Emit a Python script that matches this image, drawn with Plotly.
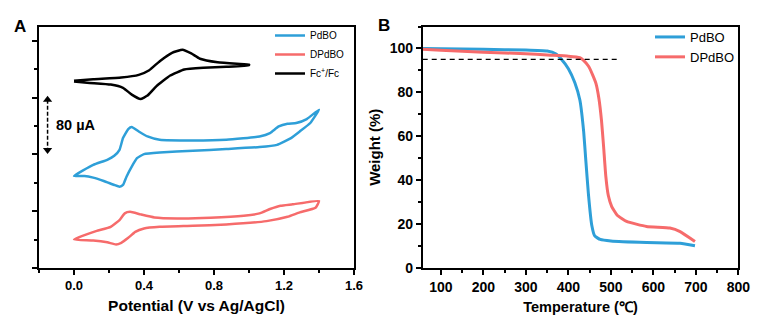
import plotly.graph_objects as go

W, H = 771, 331

# ---------------- Panel A: cyclic voltammetry (current offset, uA) ----------------
fc_up_v = [0.00, 0.11, 0.27, 0.37, 0.43, 0.49, 0.56, 0.62, 0.67, 0.72, 0.82, 0.93, 1.00]
fc_up_i = [263.5, 265.7, 268.1, 271.9, 278.4, 291.2, 303.0, 307.2, 302.0, 294.6, 289.7, 287.5, 286.5]
fc_dn_v = [1.00, 0.87, 0.74, 0.63, 0.55, 0.47, 0.42, 0.38, 0.33, 0.28, 0.21, 0.09, 0.00]
fc_dn_i = [285.5, 283.2, 281.8, 279.4, 271.0, 255.8, 242.7, 238.0, 244.1, 253.6, 258.2, 260.6, 262.5]

pd_up_v = [0.00, 0.11, 0.19, 0.23, 0.26, 0.28, 0.31, 0.33, 0.37, 0.42, 0.49, 0.68, 0.87, 1.06, 1.12, 1.17, 1.22, 1.27, 1.33, 1.40]
pd_up_i = [129.6, 145.2, 152.3, 157.9, 166.4, 182.9, 195.6, 198.4, 192.2, 185.2, 180.5, 179.5, 180.5, 185.2, 190.0, 199.3, 203.1, 204.1, 209.7, 222.9]
pd_dn_v = [1.35, 1.29, 1.24, 1.16, 1.06, 0.87, 0.68, 0.49, 0.40, 0.36, 0.33, 0.30, 0.28, 0.26, 0.23, 0.17, 0.11, 0.06, 0.00]
pd_dn_i = [204.1, 192.2, 182.9, 173.4, 170.2, 167.5, 165.1, 162.7, 160.4, 154.6, 142.8, 128.6, 116.9, 114.5, 116.9, 122.5, 127.2, 129.6, 129.6]

dp_up_v = [0.00, 0.06, 0.13, 0.21, 0.26, 0.29, 0.32, 0.38, 0.46, 0.59, 0.78, 0.97, 1.06, 1.12, 1.18, 1.25, 1.40]
dp_up_i = [40.1, 46.2, 52.3, 57.9, 67.4, 76.9, 79.1, 75.5, 71.2, 69.8, 70.7, 73.5, 76.9, 83.0, 87.6, 89.6, 94.3]
dp_dn_v = [1.38, 1.29, 1.22, 1.10, 0.87, 0.68, 0.49, 0.40, 0.35, 0.31, 0.27, 0.24, 0.19, 0.11, 0.00]
dp_dn_i = [84.8, 78.3, 72.1, 66.0, 61.3, 59.4, 57.9, 55.7, 50.9, 42.5, 35.5, 33.1, 36.2, 38.8, 40.1]

scale_bar = [237, 166]  # 80 uA double arrow (ends)

# ---------------- Panel B: TGA ----------------
tga_pd_t = [57, 100, 200, 300, 350, 370, 384, 400, 415, 427, 436, 441, 447, 455, 462, 475, 500, 584, 663, 698]
tga_pd_w = [100.0, 99.9, 99.6, 99.3, 98.8, 97.6, 95.0, 90.8, 84.5, 76.5, 62.0, 49.0, 34.0, 19.5, 14.6, 13.0, 12.3, 11.6, 11.3, 10.1]
tga_dp_t = [57, 100, 200, 300, 350, 400, 427, 435, 447, 457, 465, 472, 478, 483, 488, 494, 502, 515, 537, 584, 639, 663, 698]
tga_dp_w = [99.6, 99.2, 98.3, 97.6, 97.0, 96.5, 95.8, 94.7, 92.0, 88.0, 84.0, 77.0, 67.0, 55.0, 42.0, 33.0, 28.0, 24.0, 21.2, 18.9, 18.2, 16.6, 12.1]
ref_line_t = [57, 515]
ref_line_w = 95

BLUE = "#2E9FD8"
RED = "#F66B6B"
FONT = "Arial, Liberation Sans, sans-serif"

fig = go.Figure()

def loop(v1, i1, v2, i2):
    return v1 + v2, i1 + i2

cv_line = dict(width=2.5, shape="spline", smoothing=0.4)
x, y = loop(pd_up_v, pd_up_i, pd_dn_v, pd_dn_i)
fig.add_trace(go.Scatter(x=x, y=y, mode="lines", name="PdBO", line=dict(color=BLUE, **cv_line), legend="legend"))
x, y = loop(dp_up_v, dp_up_i, dp_dn_v, dp_dn_i)
fig.add_trace(go.Scatter(x=x, y=y, mode="lines", name="DPdBO", line=dict(color=RED, **cv_line), legend="legend"))
x, y = loop(fc_up_v, fc_up_i, fc_dn_v, fc_dn_i)
fig.add_trace(go.Scatter(x=x, y=y, mode="lines", name="Fc<sup>+</sup>/Fc", line=dict(color="black", **cv_line), legend="legend"))

# 80 uA scale bar: dashed line with arrow heads
bar_x = -0.151
fig.add_trace(go.Scatter(x=[bar_x, bar_x], y=scale_bar, mode="lines+markers", showlegend=False, hoverinfo="skip",
                         line=dict(color="black", width=1.5, dash="4px,2px"),
                         marker=dict(symbol=["triangle-up", "triangle-down"], size=8, color="black"),
                         cliponaxis=False))

fig.add_trace(go.Scatter(x=tga_pd_t, y=tga_pd_w, mode="lines", name="PdBO", line=dict(color=BLUE, width=3, shape="spline", smoothing=0.4), xaxis="x2", yaxis="y2", legend="legend2"))
fig.add_trace(go.Scatter(x=tga_dp_t, y=tga_dp_w, mode="lines", name="DPdBO", line=dict(color=RED, width=3, shape="spline", smoothing=0.4), xaxis="x2", yaxis="y2", legend="legend2"))
fig.add_trace(go.Scatter(x=ref_line_t, y=[ref_line_w, ref_line_w], mode="lines", showlegend=False, line=dict(color="black", width=1.2, dash="5px,4px"), xaxis="x2", yaxis="y2"))

def px(xp):
    return xp / W

def py(yp):
    return 1 - yp / H

ydom = [py(268), py(26.5)]
axis_common = dict(showline=True, linecolor="black", linewidth=1.5, mirror=True, showgrid=False, zeroline=False,
                   ticks="outside", ticklen=5, tickwidth=1.5, tickcolor="black", automargin=False)

fig.update_layout(
    template="none",
    width=W, height=H, margin=dict(l=0, r=0, t=0, b=0, autoexpand=False),
    paper_bgcolor="white", plot_bgcolor="white",
    font=dict(family=FONT, color="black"),
    xaxis=dict(domain=[px(39), px(354)], range=[-0.2, 1.6], tick0=0, dtick=0.4, tickformat=".1f",
               tickfont=dict(size=13, weight="bold"),
               minor=dict(dtick=0.2, ticks="outside", ticklen=3, tickcolor="black", showgrid=False),
               title=dict(text="Potential (V vs Ag/AgCl)", font=dict(size=15.5, weight="bold"), standoff=8),
               anchor="y", **axis_common),
    yaxis=dict(domain=ydom, range=[0, 340], tick0=0, dtick=80, showticklabels=False,
               minor=dict(dtick=40, ticks="outside", ticklen=3, tickcolor="black", showgrid=False),
               anchor="x", **axis_common),
    xaxis2=dict(domain=[px(422.7), px(738.3)], range=[57, 800], tick0=0, dtick=100,
                tickfont=dict(size=14, weight="bold"),
                minor=dict(dtick=50, ticks="outside", ticklen=3, tickcolor="black", showgrid=False),
                title=dict(text="Temperature (\u2103)", font=dict(size=14.5, weight="bold"), standoff=8),
                anchor="y2", **axis_common),
    yaxis2=dict(domain=ydom, range=[0, 110], tick0=0, dtick=20,
                tickfont=dict(size=14, weight="bold"),
                minor=dict(dtick=10, ticks="outside", ticklen=3, tickcolor="black", showgrid=False),
                title=dict(text="Weight (%)", font=dict(size=15, weight="bold"), standoff=6),
                anchor="x2", **axis_common),
    legend=dict(x=px(270), y=py(21), xanchor="left", yanchor="top", bgcolor="rgba(0,0,0,0)",
                font=dict(size=10), itemwidth=30, tracegroupgap=0),
    legend2=dict(x=px(650), y=py(22), xanchor="left", yanchor="top", bgcolor="rgba(0,0,0,0)",
                 font=dict(size=13), itemwidth=30, tracegroupgap=0),
)

# panel letters
fig.add_annotation(text="<b>A</b>", x=px(20), y=py(27), xref="paper", yref="paper", showarrow=False,
                   font=dict(size=17), xanchor="center", yanchor="middle")
fig.add_annotation(text="<b>B</b>", x=px(384), y=py(25), xref="paper", yref="paper", showarrow=False,
                   font=dict(size=17), xanchor="center", yanchor="middle")

fig.add_annotation(text="<b>80 \u00b5A</b>", x=-0.115, y=(scale_bar[0] + scale_bar[1]) / 2, xref="x", yref="y",
                   showarrow=False, xanchor="left", yanchor="middle", font=dict(size=14.5))

fig.write_html("out.html")
